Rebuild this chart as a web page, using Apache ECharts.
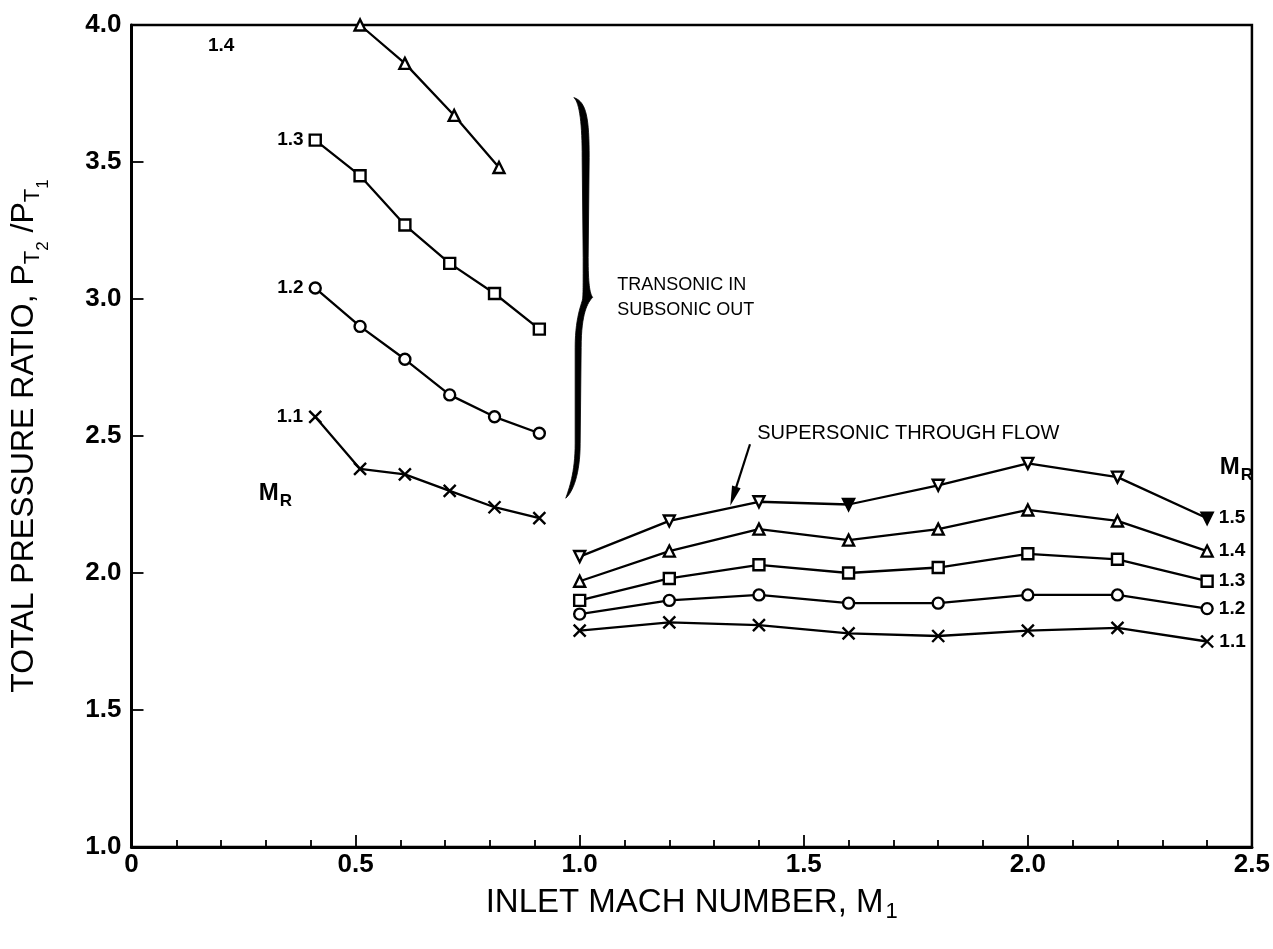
<!DOCTYPE html>
<html>
<head>
<meta charset="utf-8">
<title>Total pressure ratio vs inlet Mach number</title>
<script src="https://cdn.jsdelivr.net/npm/echarts@6/dist/echarts.min.js"></script>
<style>
  html, body { margin: 0; padding: 0; background: #fff; }
  #chart { width: 1273px; height: 949px; }
</style>
</head>
<body>
<div id="chart"></div>
<script>
// Transonic in / subsonic out branch
const transonicMach   = [0.41, 0.51, 0.61, 0.71, 0.81, 0.91];
const transonicMach14 = [0.51, 0.61, 0.72, 0.82];
const transonic14 = [4.00, 3.86, 3.67, 3.48];
const transonic13 = [3.58, 3.45, 3.27, 3.13, 3.02, 2.89];
const transonic12 = [3.04, 2.90, 2.78, 2.65, 2.57, 2.51];
const transonic11 = [2.57, 2.38, 2.36, 2.30, 2.24, 2.20];

// Supersonic through-flow branch
const supersonicMach = [1.0, 1.2, 1.4, 1.6, 1.8, 2.0, 2.2, 2.4];
const supersonic15 = [2.06, 2.19, 2.26, 2.25, 2.32, 2.40, 2.35, 2.20];
const supersonic14 = [1.97, 2.08, 2.16, 2.12, 2.16, 2.23, 2.19, 2.08];
const supersonic13 = [1.90, 1.98, 2.03, 2.00, 2.02, 2.07, 2.05, 1.97];
const supersonic12 = [1.85, 1.90, 1.92, 1.89, 1.89, 1.92, 1.92, 1.87];
const supersonic11 = [1.79, 1.82, 1.81, 1.78, 1.77, 1.79, 1.80, 1.75];

// Solid (filled) symbols on the 1.5 curve, by point index
const solid15 = [3, 7];

// Rotor Mach number of each curve
const rotorMach = ['1.1', '1.2', '1.3', '1.4', '1.5'];

const FONT = '"Liberation Sans", Arial, Helvetica, sans-serif';
const INK = '#000';
const SYM_CROSS = 'path://M0,0L10,10M10,0L0,10';

function pairs(xs, ys) { return xs.map((x, i) => [x, ys[i]]); }

function curve(name, xs, ys, symbol, opts) {
  opts = opts || {};
  const data = pairs(xs, ys).map((p, i) => {
    const item = { value: p };
    if (i === 0 && opts.leftLabel) {
      item.label = { show: true, position: 'left', distance: 5, formatter: opts.leftLabel };
    }
    if (i === xs.length - 1 && opts.rightLabel) {
      item.label = { show: true, position: 'right', distance: 5, formatter: opts.rightLabel };
    }
    if (opts.solid && opts.solid.indexOf(i) >= 0) {
      item.itemStyle = { color: INK };
    }
    return item;
  });
  return {
    name: name,
    type: 'line',
    data: data,
    symbol: symbol,
    symbolSize: opts.size || 11,
    symbolRotate: opts.rotate || 0,
    showSymbol: true,
    animation: false,
    lineStyle: { color: INK, width: 2.3 },
    itemStyle: { color: '#fff', borderColor: INK, borderWidth: 2.4 },
    label: { color: INK, fontFamily: FONT, fontSize: 19, fontWeight: 'bold' },
    emphasis: { disabled: true },
    z: 3
  };
}

const chart = echarts.init(document.getElementById('chart'), null, { renderer: 'canvas' });

chart.setOption({
  backgroundColor: '#fff',
  animation: false,
  grid: {
    left: 127, right: 21, top: 25, bottom: 102,
    show: true, borderColor: INK, borderWidth: 2.5, backgroundColor: 'transparent'
  },
  xAxis: {
    type: 'value', min: 0, max: 2.5, interval: 0.5,
    axisLine: { show: true, onZero: false, lineStyle: { color: INK, width: 3 } },
    axisTick: { show: true, inside: true, length: 12, lineStyle: { color: INK, width: 1.8 } },
    minorTick: { show: true, splitNumber: 5, length: 7, lineStyle: { color: INK, width: 1.8 } },
    splitLine: { show: false },
    axisLabel: {
      color: INK, fontFamily: FONT, fontSize: 26, fontWeight: 'bold', margin: 5,
      formatter: v => (v === 0 ? '0' : v.toFixed(1))
    },
    name: 'INLET MACH NUMBER, M{sub|1}',
    nameLocation: 'middle', nameGap: 36,
    nameTextStyle: {
      color: INK, fontFamily: FONT, fontSize: 33,
      rich: { sub: { fontFamily: FONT, fontSize: 22, color: INK, padding: [18, 0, 0, 2] } }
    }
  },
  yAxis: {
    type: 'value', min: 1, max: 4, interval: 0.5,
    axisLine: { show: true, onZero: false, lineStyle: { color: INK, width: 3 } },
    axisTick: { show: true, inside: true, length: 12, lineStyle: { color: INK, width: 1.8 } },
    splitLine: { show: false },
    axisLabel: {
      color: INK, fontFamily: FONT, fontSize: 26, fontWeight: 'bold', margin: 10,
      formatter: v => v.toFixed(1)
    },
    name: 'TOTAL PRESSURE RATIO, P{t|T}{tt|2}{s| /}P{t|T}{tt|1}',
    nameLocation: 'middle', nameGap: 80, nameRotate: 90,
    nameTextStyle: {
      color: INK, fontFamily: FONT, fontSize: 32,
      rich: {
        t:  { fontFamily: FONT, fontSize: 22, color: INK, padding: [18, 0, 0, 0] },
        tt: { fontFamily: FONT, fontSize: 17, color: INK, padding: [38, 0, 0, 0] },
        s:  { fontFamily: FONT, fontSize: 32, color: INK }
      }
    }
  },
  series: [
    curve('1.4 transonic', transonicMach14, transonic14, 'triangle'),
    curve('1.3 transonic', transonicMach, transonic13, 'rect', { leftLabel: rotorMach[2] }),
    curve('1.2 transonic', transonicMach, transonic12, 'circle', { leftLabel: rotorMach[1] }),
    curve('1.1 transonic', transonicMach, transonic11, SYM_CROSS, { leftLabel: rotorMach[0], size: 12 }),
    curve('1.5 supersonic', supersonicMach, supersonic15, 'triangle', { rightLabel: rotorMach[4], rotate: 180, solid: solid15 }),
    curve('1.4 supersonic', supersonicMach, supersonic14, 'triangle', { rightLabel: rotorMach[3] }),
    curve('1.3 supersonic', supersonicMach, supersonic13, 'rect', { rightLabel: rotorMach[2] }),
    curve('1.2 supersonic', supersonicMach, supersonic12, 'circle', { rightLabel: rotorMach[1] }),
    curve('1.1 supersonic', supersonicMach, supersonic11, SYM_CROSS, { rightLabel: rotorMach[0], size: 12 })
  ]
});

// ---- annotations placed in data space ----
function px(x, y) { return chart.convertToPixel({ gridIndex: 0 }, [x, y]); }

function textAt(x, y, text, font, extra) {
  const p = px(x, y);
  return {
    type: 'text', x: p[0], y: p[1], z: 10, silent: true,
    style: Object.assign({ text: text, fill: INK, font: font, verticalAlign: 'middle' }, extra || {})
  };
}

function mrLabel(x, y) {
  return textAt(x, y, 'M{r|R}', 'bold 24px ' + FONT, {
    rich: { r: { font: 'bold 17px ' + FONT, fill: INK, padding: [16, 0, 0, 1] } }
  });
}

// cubic bezier sampled into points
function bez(p0, p1, p2, p3, n, out) {
  for (let i = 1; i <= n; i++) {
    const t = i / n, u = 1 - t;
    out.push([
      u * u * u * p0[0] + 3 * u * u * t * p1[0] + 3 * u * t * t * p2[0] + t * t * t * p3[0],
      u * u * u * p0[1] + 3 * u * u * t * p1[1] + 3 * u * t * t * p2[1] + t * t * t * p3[1]
    ]);
  }
}

// filled outline of a right-facing curly brace
function bracePoints(top, tip, bot) {
  const [tx, ty] = top, [mx, my] = tip, [bx, by] = bot;
  const us = mx - 7, ls = mx - 15, w = 3.5;
  const pts = [[tx, ty]];
  const cur = () => pts[pts.length - 1];
  const C = (a, b, c) => bez(cur(), a, b, c, 16, pts);
  const L = (p) => pts.push(p);
  // outer edge, downwards
  C([tx + 13, ty + 4], [us + w, ty + 22], [us + w, ty + 60]);
  L([us + w - 1, my - 40]);
  C([us + w - 1, my - 14], [mx - 3, my - 4], [mx, my]);
  C([mx - 5, my + 5], [ls + w, my + 16], [ls + w, my + 50]);
  L([ls + w - 1, by - 55]);
  C([ls + w - 1, by - 24], [bx + 7, by - 6], [bx, by]);
  // inner edge, upwards
  C([bx + 3, by - 9], [ls - w + 1, by - 25], [ls - w + 1, by - 55]);
  L([ls - w + 1, my + 50]);
  C([ls - w + 1, my + 16], [mx - 9, my + 3], [mx - 10, my]);
  C([us - w + 1, my - 4], [us - w + 1, my - 15], [us - w + 1, my - 40]);
  L([us - w, ty + 60]);
  C([us - w, ty + 28], [tx + 6, ty + 5], [tx, ty]);
  return pts;
}

function drawAnnotations() {
  const el = [];

  el.push({
    type: 'polygon', z: 10, silent: true,
    shape: { points: bracePoints(px(0.987, 3.735), px(1.029, 3.006), px(0.969, 2.273)) },
    style: { fill: INK, stroke: INK, lineWidth: 0.8 }
  });

  el.push(textAt(1.084, 3.05, 'TRANSONIC IN', '18px ' + FONT));
  el.push(textAt(1.084, 2.96, 'SUBSONIC OUT', '18px ' + FONT));
  el.push(textAt(1.396, 2.51, 'SUPERSONIC THROUGH FLOW', '20px ' + FONT));

  // arrow pointing at the supersonic curves
  const a0 = px(1.38, 2.47), a1 = px(1.336, 2.245);
  const dx = a1[0] - a0[0], dy = a1[1] - a0[1];
  const len = Math.hypot(dx, dy), ux = dx / len, uy = dy / len;
  const hl = 20, hw = 4.5;
  const base = [a1[0] - ux * hl, a1[1] - uy * hl];
  el.push({ type: 'line', z: 10, silent: true,
    shape: { x1: a0[0], y1: a0[1], x2: base[0] + ux * 3, y2: base[1] + uy * 3 },
    style: { stroke: INK, lineWidth: 2.2 } });
  el.push({ type: 'polygon', z: 10, silent: true,
    shape: { points: [a1, [base[0] - uy * hw, base[1] + ux * hw], [base[0] + uy * hw, base[1] - ux * hw]] },
    style: { fill: INK } });

  // rotor Mach number label of the short 1.4 curve
  el.push(textAt(0.2, 3.925, rotorMach[3], 'bold 19px ' + FONT, { align: 'center' }));

  el.push(mrLabel(0.284, 2.29));
  el.push(mrLabel(2.428, 2.385));

  chart.setOption({ graphic: { elements: el } });
}

drawAnnotations();
</script>
</body>
</html>
